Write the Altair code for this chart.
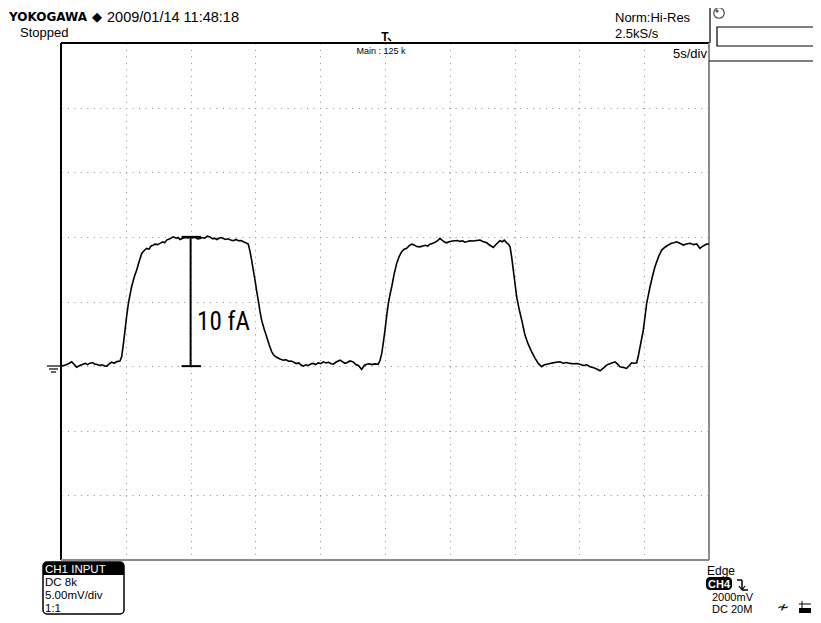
import altair as alt
import pandas as pd

# ---- trace data (time in s, signal in mV) ----
T = [0.0, 0.15, 0.4, 0.6, 0.83, 1.0, 1.21, 1.45, 1.7, 1.9, 2.05, 2.24, 2.45, 2.6, 2.75, 2.95,
     3.15, 3.35, 3.53, 3.7, 3.91, 4.1, 4.3, 4.55,
     4.68, 4.8, 4.94, 5.07, 5.2, 5.32, 5.45, 5.64, 5.84, 6.03, 6.23, 6.42, 6.61, 6.8, 6.95, 7.1,
     7.25, 7.45, 7.64, 7.85, 8.0, 8.15, 8.4, 8.67, 8.9, 9.05, 9.18, 9.4, 9.6, 9.8, 9.95, 10.15,
     10.35, 10.55, 10.73, 10.9, 11.1, 11.3, 11.5, 11.7, 11.85, 12.01, 12.2, 12.35, 12.52, 12.7,
     12.9, 13.1, 13.3, 13.5, 13.7, 13.9, 14.07, 14.25, 14.45,
     14.58, 14.71, 14.84, 14.97, 15.1, 15.23, 15.35, 15.48, 15.68, 15.87, 16.06, 16.26, 16.38,
     16.51, 16.7, 16.9, 17.15, 17.35, 17.55, 17.75, 17.93, 18.15, 18.35, 18.5, 18.7, 18.9, 19.1,
     19.3, 19.47, 19.65, 19.85, 20.05, 20.24, 20.45, 20.65, 20.85, 21.01, 21.2, 21.35, 21.53,
     21.7, 21.9, 22.05, 22.3, 22.55, 22.75, 22.95, 23.2, 23.4, 23.59, 23.8, 24.0, 24.2, 24.48,
     24.62, 24.75, 24.88, 25.0, 25.13, 25.26, 25.39, 25.52, 25.7, 25.9, 26.1, 26.29, 26.48,
     26.67, 26.85, 27.06, 27.25, 27.45, 27.7, 27.9, 28.1, 28.3, 28.47, 28.7, 28.9, 29.1, 29.24,
     29.4, 29.6, 29.76, 29.95, 30.2, 30.4, 30.6, 30.8, 31.0, 31.15, 31.3, 31.55, 31.8, 32.05,
     32.33, 32.55, 32.85, 33.1, 33.36, 33.6, 33.87, 34.05, 34.2, 34.39, 34.52, 34.65,
     34.78, 34.9, 35.03, 35.16, 35.35, 35.55, 35.68, 35.8, 36.05, 36.32, 36.58, 36.83, 37.09,
     37.3, 37.5, 37.73, 37.95, 38.2, 38.5, 38.75, 39.0, 39.27, 39.5, 39.8, 40.05, 40.3, 40.55,
     40.82, 41.05, 41.3, 41.59, 41.85, 42.1, 42.4, 42.75, 42.95, 43.13, 43.4, 43.65, 43.85,
     44.03, 44.25, 44.42,
     44.55, 44.68, 44.8, 44.93, 45.06, 45.19, 45.32, 45.45, 45.64, 45.83, 46.1, 46.35, 46.6,
     46.86, 47.1, 47.3, 47.5, 47.75, 48.02, 48.25, 48.53, 48.8, 49.05, 49.3, 49.55, 49.82, 50.0]
V = [0.05, 0.02, 0.1, 0.2, 0.33, 0.15, -0.08, 0.05, 0.15, 0.22, 0.12, 0.23, 0.28, 0.15, 0.15, 0.05,
     0.1, 0.02, 0.0, 0.15, 0.31, 0.22, 0.35, 0.39,
     0.72, 1.6, 2.79, 3.9, 4.85, 5.5, 6.14, 6.85, 7.43, 8.1, 8.72, 8.95, 9.11, 9.05, 9.3, 9.35,
     9.44, 9.4, 9.5, 9.62, 9.55, 9.75, 9.85, 10.0, 9.9, 9.95, 9.8, 9.9, 9.95, 9.9, 10.0, 9.92,
     9.97, 9.85, 9.88, 9.95, 9.9, 10.05, 10.0, 9.85, 9.9, 9.8, 9.9, 9.95, 9.88, 9.8,
     9.85, 9.75, 9.7, 9.8, 9.7, 9.72, 9.62, 9.55, 9.44,
     8.9, 8.2, 7.4, 6.66, 5.8, 5.03, 4.25, 3.56, 2.85, 2.27, 1.65, 1.11, 0.9,
     0.77, 0.65, 0.55, 0.46, 0.5, 0.38, 0.4, 0.33, 0.2, 0.25, 0.1, 0.0, 0.1, 0.05,
     0.18, 0.21, 0.12, 0.25, 0.2, 0.33, 0.25, 0.3, 0.18, 0.15, 0.3, 0.38, 0.46,
     0.35, 0.22, 0.26, 0.4, 0.33, 0.12, 0.05, -0.26, 0.05, 0.15, 0.18, 0.12, 0.17, 0.15,
     0.45, 0.98, 1.9, 2.79, 3.9, 4.85, 5.55, 6.14, 7.1, 7.95, 8.5, 8.85, 9.05,
     9.11, 9.3, 9.44, 9.38, 9.25, 9.23, 9.3, 9.35, 9.28, 9.44, 9.5, 9.6, 9.75, 9.88,
     9.75, 9.6, 9.54, 9.62, 9.68, 9.7, 9.72, 9.65, 9.7, 9.6, 9.62, 9.7, 9.68, 9.72,
     9.75, 9.65, 9.54, 9.35, 9.18, 9.45, 9.7, 9.62, 9.75, 9.54, 9.45, 9.23,
     8.4, 7.43, 6.4, 5.36, 4.4, 3.56, 2.95, 2.4, 1.7, 1.11, 0.6, 0.21, -0.05,
     0.1, 0.15, 0.21, 0.25, 0.3, 0.33, 0.22, 0.28, 0.21, 0.18, 0.2, 0.15, 0.05, 0.1,
     -0.05, -0.1, -0.2, -0.36, -0.15, 0.08, 0.2, 0.33, 0.15, -0.05, -0.1, -0.18, 0.05,
     0.26, 0.22, 0.26,
     0.8, 1.49, 2.1, 2.79, 3.8, 4.85, 5.5, 6.14, 6.95, 7.69, 8.45, 8.98, 9.2,
     9.37, 9.5, 9.55, 9.62, 9.5, 9.37, 9.45, 9.5, 9.4, 9.45, 9.11, 9.3, 9.44, 9.45]

X_GRID = [5, 10, 15, 20, 25, 30, 35, 40, 45]
Y_GRID = [-10, -5, 0, 5, 10, 15, 20]
T_MIN, T_MAX = 0, 50
V_MIN, V_MAX = -15, 25

MARK_T = 10          # time of the amplitude marker
MARK_LOW, MARK_HIGH = 0, 10
CAP_T0, CAP_T1 = 9.3, 10.8
MARK_LABEL = "10 fA"

W, H = 648, 517
OX, OY = 61, 43      # plot origin on the page

FONT = "Liberation Sans"

xs = alt.Scale(domain=[T_MIN, T_MAX], nice=False, zero=False)
ys = alt.Scale(domain=[V_MIN, V_MAX], nice=False, zero=False)

trace = pd.DataFrame({"t": T, "v": V})
one = pd.DataFrame({"a": [0]})

grid = alt.Chart(trace).mark_point(opacity=0).encode(
    x=alt.X("t:Q", scale=xs, axis=alt.Axis(values=X_GRID, grid=True, labels=False, ticks=False,
                                          domain=False, title=None, gridDash=[1, 5.46],
                                          gridColor="#8a8a8a", gridWidth=1)),
    y=alt.Y("v:Q", scale=ys, axis=alt.Axis(values=Y_GRID, grid=True, labels=False, ticks=False,
                                          domain=False, title=None, gridDash=[1, 5.46],
                                          gridColor="#8a8a8a", gridWidth=1)),
)

borders = pd.DataFrame({
    "x": [T_MIN, T_MIN, T_MIN, T_MAX],
    "x2": [T_MAX, T_MIN, T_MAX, T_MAX],
    "y": [V_MAX, V_MIN, V_MIN, V_MIN],
    "y2": [V_MAX, V_MAX, V_MIN, V_MAX],
    "c": ["#000000", "#000000", "#8c8c8c", "#8c8c8c"],
})
border = alt.Chart(borders).mark_rule(strokeWidth=2).encode(
    x=alt.X("x:Q", scale=xs), x2="x2:Q",
    y=alt.Y("y:Q", scale=ys), y2="y2:Q",
    color=alt.Color("c:N", scale=None),
)

line = alt.Chart(trace).mark_line(color="black", strokeWidth=1.6, interpolate="linear").encode(
    x=alt.X("t:Q", scale=xs), y=alt.Y("v:Q", scale=ys), order="t:Q"
)

marker_df = pd.DataFrame({
    "x": [MARK_T, CAP_T0, CAP_T0],
    "x2": [MARK_T, CAP_T1, CAP_T1],
    "y": [MARK_LOW, MARK_LOW, MARK_HIGH],
    "y2": [MARK_HIGH, MARK_LOW, MARK_HIGH],
})
marker = alt.Chart(marker_df).mark_rule(color="black", strokeWidth=2).encode(
    x=alt.X("x:Q", scale=xs), x2="x2:Q", y=alt.Y("y:Q", scale=ys), y2="y2:Q"
)
label_df = pd.DataFrame({"t": [10.5], "v": [2.8], "s": [MARK_LABEL]})
label = alt.Chart(label_df).mark_text(align="left", baseline="alphabetic", fontSize=25,
                                      font="Liberation Sans Narrow, Roboto Condensed, Liberation Sans",
                                      color="black").encode(
    x=alt.X("t:Q", scale=xs), y=alt.Y("v:Q", scale=ys), text="s:N"
)


def txt(s, x, y, size=13, weight="normal", align="left", color="black", font=FONT):
    return alt.Chart(one).mark_text(text=s, align=align, baseline="alphabetic", fontSize=size,
                                    fontWeight=weight, color=color, font=font).encode(
        x=alt.value(x - OX), y=alt.value(y - OY))


def rule(x1, y1, x2, y2, color="black", width=1.0):
    return alt.Chart(one).mark_rule(color=color, strokeWidth=width).encode(
        x=alt.value(x1 - OX), x2=alt.value(x2 - OX), y=alt.value(y1 - OY), y2=alt.value(y2 - OY))


def rect(x1, y1, x2, y2, fill=None, stroke=None, sw=1.0, **kw):
    props = dict(strokeWidth=sw)
    props["fill"] = fill if fill else "transparent"
    if stroke:
        props["stroke"] = stroke
    props.update(kw)
    return alt.Chart(one).mark_rect(**props).encode(
        x=alt.value(x1 - OX), x2=alt.value(x2 - OX), y=alt.value(y1 - OY), y2=alt.value(y2 - OY))


deco = [
    txt("YOKOGAWA", 9, 21, size=12, weight="bold", font="DejaVu Sans"),
    txt("\u25C6", 92, 21, size=13, font="DejaVu Sans"),
    txt("2009/01/14 11:48:18", 107, 22, size=14.5),
    txt("Stopped", 20, 37, size=13),
    txt("Norm:Hi-Res", 615, 22, size=13),
    txt("2.5kS/s", 615, 38, size=13),
    txt("5s/div", 707, 58, size=13, align="right"),
    txt("Main : 125 k", 381, 54, size=9, align="center"),
    txt("T", 385, 41, size=12, weight="bold", align="center"),
    rule(388, 38, 391, 41, width=1.5),
    # right-hand panel
    rule(710, 5, 710, 43, width=1.2),
    rule(709, 61, 821, 61, width=1.2),
    rect(717, 27, 823, 46, stroke="black", sw=1.2),
    alt.Chart(one).mark_point(shape="circle", size=110, color="black", strokeWidth=1.2,
                              filled=False).encode(x=alt.value(719 - OX), y=alt.value(13 - OY)),
    alt.Chart(one).mark_point(shape="circle", size=10, color="black", filled=True).encode(
        x=alt.value(717 - OX), y=alt.value(11 - OY)),
    # ground symbol
    rule(47, 366, 61, 366, width=1.2),
    rule(49, 369, 58, 369, width=1.2),
    rule(51, 372, 56, 372, width=1.2),
    # CH1 input box
    rect(43, 562, 124, 575, fill="black", cornerRadiusTopLeft=4, cornerRadiusTopRight=4),
    rect(43, 562, 124, 614, stroke="black", sw=1.5, cornerRadius=4),
    txt("CH1 INPUT", 45, 573, size=11.5, color="white"),
    txt("DC 8k", 45, 586, size=11.5),
    txt("5.00mV/div", 45, 599, size=11.5),
    txt("1:1", 45, 612, size=11.5),
    # trigger info
    txt("Edge", 707, 575, size=12),
    rect(706, 577, 732, 590, fill="black", cornerRadius=4),
    txt("CH4", 719, 588, size=11, color="white", align="center", weight="bold"),
    rule(737, 580, 742, 580, width=1.5),
    rule(742, 580, 742, 590, width=1.5),
    rule(742, 590, 748, 590, width=1.5),
    rule(739, 586, 742, 590, width=1.2),
    rule(745, 586, 742, 590, width=1.2),
    txt("2000mV", 712, 601, size=11),
    txt("DC 20M", 712, 613, size=11),
    txt("\u2241", 783, 612, size=15, align="center", font="DejaVu Sans"),
    rule(802, 601, 802, 608, width=1),
    rule(799, 604, 811, 604, width=1),
    rect(799, 608, 811, 613, fill="black"),
]

chart = alt.layer(grid, border, line, marker, label, *deco).properties(
    width=W, height=H,
    autosize=alt.AutoSizeParams(type="none"),
    padding={"left": OX - 8, "top": OY - 8, "right": 821 - 16 - (OX - 8) - W, "bottom": 623 - 16 - (OY - 8) - H},
    background="white",
).configure_view(stroke=None)

chart.save("out.html", embed_options={"renderer": "svg", "actions": False})
